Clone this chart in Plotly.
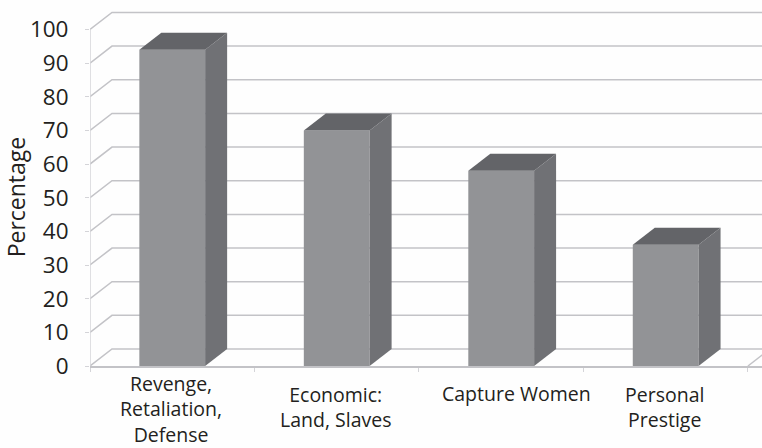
import plotly.graph_objects as go

category_labels = ["Revenge,<br>Retaliation,<br>Defense", "Economic:<br>Land, Slaves", "Capture Women", "Personal<br>Prestige"]
percentages = [94, 70, 58, 36]
y_ticks = [0, 10, 20, 30, 40, 50, 60, 70, 80, 90, 100]

# Pseudo-3D projection, expressed in axis units
DEPTH_X = 0.1337
DEPTH_Y = 5.05
BAR_WIDTH = 0.40

GRID = "#c3c3c7"
FRONT = "#929396"
TOP = "#636468"
SIDE = "#707175"
INK = "#231f20"
FONT = "Open Sans"

fig = go.Figure()


def polygon(xs, ys, color):
    fig.add_trace(go.Scatter(x=xs + xs[:1], y=ys + ys[:1], mode="lines", fill="toself",
                             fillcolor=color, line=dict(width=0), hoverinfo="skip", showlegend=False))


# Side wall and back wall gridlines
for t in y_ticks:
    fig.add_trace(go.Scatter(x=[0, DEPTH_X, 4 + DEPTH_X], y=[t, t + DEPTH_Y, t + DEPTH_Y], mode="lines",
                             line=dict(color=GRID, width=1.5), hoverinfo="skip", showlegend=False))

# Floor edge on the right
fig.add_trace(go.Scatter(x=[4, 4 + DEPTH_X], y=[0, DEPTH_Y], mode="lines",
                         line=dict(color=GRID, width=1.5), hoverinfo="skip", showlegend=False))

# Left wall front edge
fig.add_trace(go.Scatter(x=[0, 0], y=[0, 100], mode="lines",
                         line=dict(color="#d4d4d8", width=1.5), hoverinfo="skip", showlegend=False))

# Extruded bars
for i, v in enumerate(percentages):
    x0 = i + 0.5 - BAR_WIDTH / 2
    x1 = i + 0.5 + BAR_WIDTH / 2
    polygon([x0, x1, x1, x0], [0, 0, v, v], FRONT)
    polygon([x1, x1 + DEPTH_X, x1 + DEPTH_X, x1], [0, DEPTH_Y, v + DEPTH_Y, v], SIDE)
    polygon([x0, x1, x1 + DEPTH_X, x0 + DEPTH_X], [v, v, v + DEPTH_Y, v + DEPTH_Y], TOP)

# Category labels hang below the floor at individually tuned offsets
label_x = [0.49, 1.495, 2.59, 3.49]
label_drop = [43, 41, 27, 41]
for x, text, drop in zip(label_x, category_labels, label_drop):
    fig.add_annotation(x=x, xref="x", y=0, yref="y", text=text, showarrow=False,
                       xanchor="center", yanchor="middle", yshift=-drop,
                       font=dict(family=FONT, size=19.5, color=INK))

fig.add_annotation(x=-0.1107, xref="paper", y=0.5 + (366.5 / 2 - 197) / 366.5, yref="paper",
                   text="Percentage", showarrow=False, textangle=-90,
                   font=dict(family=FONT, size=23, color=INK),
                   xanchor="center", yanchor="middle")

fig.update_layout(
    width=762, height=448, margin=dict(l=89.5, r=0, t=0, b=81.5),
    paper_bgcolor="#fefefe", plot_bgcolor="#fefefe", showlegend=False,
    xaxis=dict(range=[0, 4.0856], tickmode="array", tickvals=[0, 1, 2, 3, 4], ticktext=[""] * 5,
               ticks="outside", ticklen=4, tickcolor="#d4d4d8", showgrid=False, zeroline=False,
               showline=True, linecolor=GRID, linewidth=1.5),
    yaxis=dict(range=[0, 108.75], tickmode="array", tickvals=y_ticks, ticks="outside", ticklen=4,
               tickcolor="#d4d4d8", showgrid=False, zeroline=False, showline=False,
               ticklabelstandoff=12, tickfont=dict(family=FONT, size=22.5, color=INK)),
)

fig.write_html("out.html")
